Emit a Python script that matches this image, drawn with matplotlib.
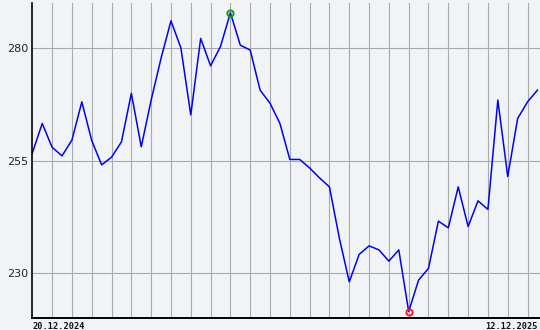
import numpy as np
import pandas as pd
import matplotlib
matplotlib.use("Agg")
import matplotlib.pyplot as plt
import matplotlib.dates as mdates

# weekly closes
dates = pd.date_range("2024-12-20", periods=52, freq="7D")
prices = [
    256.7, 263.3, 258.0, 256.1, 259.6, 268.1, 259.5, 254.1, 255.8, 259.2,
    270.0, 258.1, 268.5, 277.8, 286.1, 280.1, 265.2, 282.2, 276.1, 280.4,
    287.9, 280.7, 279.6, 270.7, 267.8, 263.3, 255.3, 255.3, 253.4, 251.2,
    249.2, 237.8, 228.1, 234.2, 236.1, 235.2, 232.7, 235.2, 221.5, 228.5,
    231.1, 241.6, 240.1, 249.2, 240.4, 246.1, 244.2, 268.5, 251.5, 264.4,
    268.1, 270.7,
]
yticks = [230, 255, 280]
first_label = "20.12.2024"
last_label = "12.12.2025"

bg = "#f1f4f6"
fig = plt.figure(figsize=(5.4, 3.3), dpi=100, facecolor=bg)
ax = fig.add_axes([32.3 / 540, 11.7 / 330, 1 - 32.3 / 540, 315 / 330])
ax.set_facecolor(bg)

ax.plot(dates, prices, color="#0000ff", linewidth=1.1, zorder=3)

# max / min markers
p = np.array(prices)
imax, imin = int(p.argmax()), int(p.argmin())
ax.plot(dates[imax], p[imax], marker="o", ms=4.5, mfc="none", mec="#1a9a1a", mew=1.4, zorder=4)
ax.plot(dates[imin], p[imin], marker="o", ms=4.5, mfc="none", mec="#ff2020", mew=1.4, zorder=4)

ax.set_ylim(220, 290)
ax.set_xlim(dates[0], dates[-1] + pd.Timedelta(days=1.8))
ax.set_yticks(yticks)
ax.set_yticklabels([str(v) for v in yticks], fontsize=8, color="#222222")

ax.xaxis.set_major_locator(mdates.DayLocator(bymonthday=None, interval=1))
grid_days = pd.date_range("2025-01-03", "2025-12-05", freq="14D")
ax.set_xticks(grid_days)
ax.set_xticklabels([])

ax.grid(True, color="#aaaaaa", linewidth=0.8, zorder=1)
ax.tick_params(length=0, pad=3)

for s in ["top", "right"]:
    ax.spines[s].set_visible(False)
ax.spines["left"].set_linewidth(1.2)
ax.spines["bottom"].set_linewidth(1.4)
ax.spines["left"].set_zorder(5)
ax.spines["bottom"].set_zorder(5)

ax.text(0, -0.012, first_label, transform=ax.transAxes, ha="left", va="top",
        fontsize=6.2, family="DejaVu Sans Mono", weight="bold", color="#111111")
ax.text(0.996, -0.012, last_label, transform=ax.transAxes, ha="right", va="top",
        fontsize=6.2, family="DejaVu Sans Mono", weight="bold", color="#111111")

fig.savefig("out.png", dpi=100, facecolor=bg)
